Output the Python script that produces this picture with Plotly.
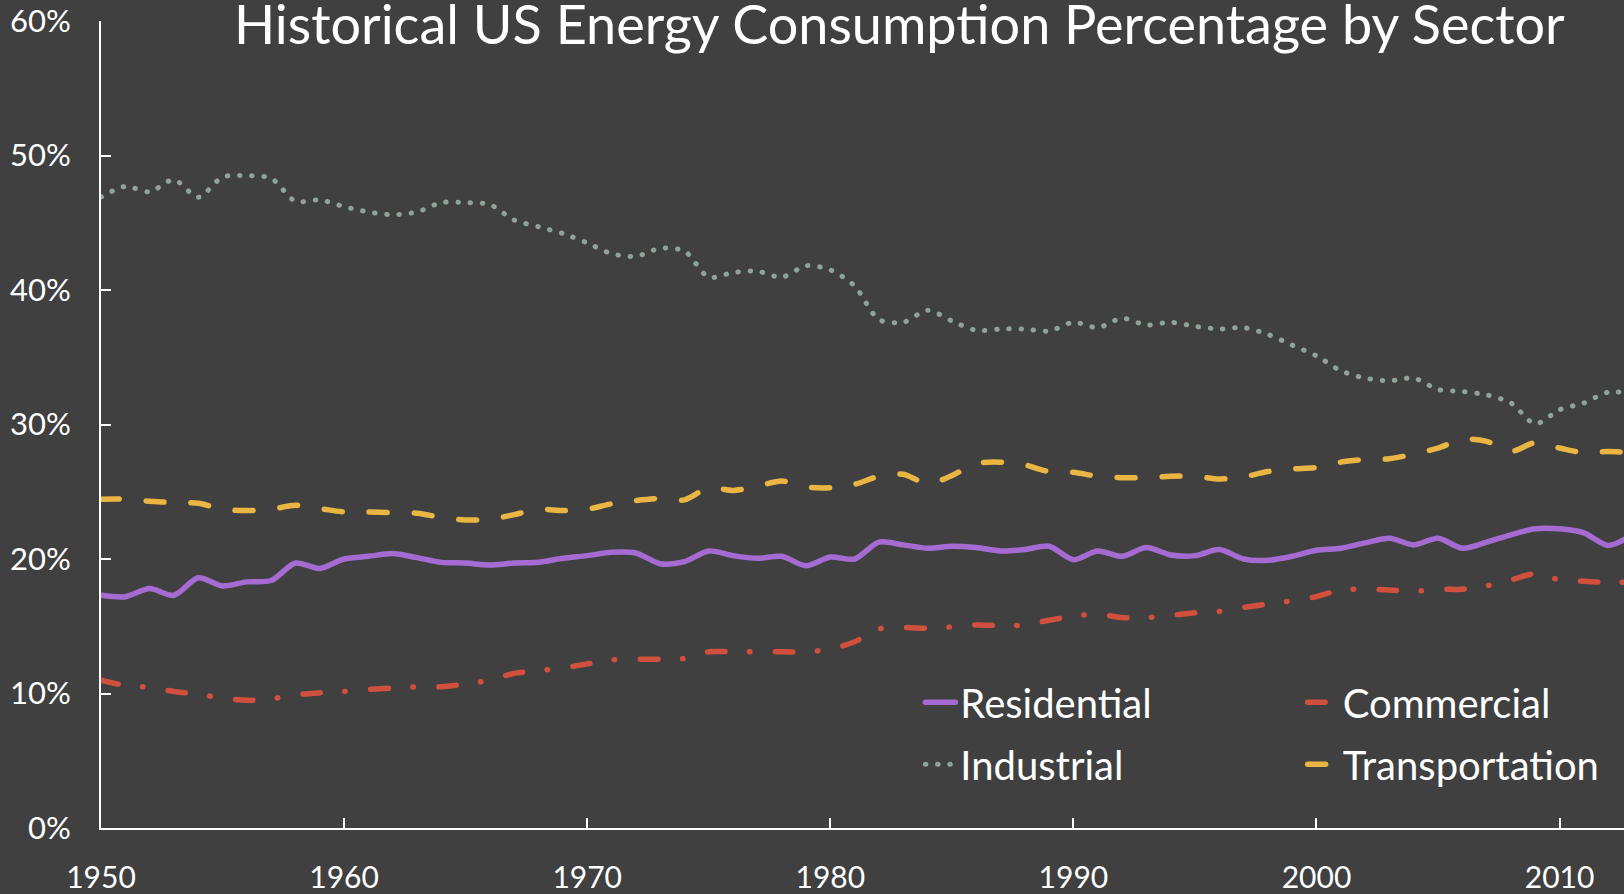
import plotly.graph_objects as go

years = list(range(1950, 2014))

residential = [17.3, 17.2, 17.8, 17.3, 18.6, 18.0, 18.3, 18.4, 19.7, 19.3,
               20.0, 20.2, 20.4, 20.1, 19.75, 19.7, 19.55, 19.7, 19.75, 20.05,
               20.25, 20.5, 20.45, 19.65, 19.8, 20.6, 20.25, 20.05, 20.2, 19.5,
               20.15, 20.0, 21.25, 21.05, 20.8, 20.95, 20.85, 20.6, 20.7, 20.95,
               19.95, 20.6, 20.2, 20.85, 20.3, 20.25, 20.7, 20.0, 19.9, 20.2,
               20.65, 20.8, 21.2, 21.55, 21.05, 21.55, 20.8, 21.25, 21.8, 22.25,
               22.25, 21.95, 21.0, 21.8]

commercial = [11.0, 10.6, 10.45, 10.15, 9.95, 9.65, 9.5, 9.6, 9.9, 10.05,
              10.15, 10.3, 10.4, 10.5, 10.5, 10.7, 11.0, 11.5, 11.7, 11.9,
              12.2, 12.5, 12.55, 12.55, 12.6, 13.1, 13.1, 13.1, 13.1, 13.1,
              13.3, 13.85, 14.8, 14.9, 14.85, 14.95, 15.1, 15.05, 15.1, 15.45,
              15.75, 15.9, 15.65, 15.65, 15.8, 16.0, 16.1, 16.4, 16.65, 16.9,
              17.2, 17.7, 17.75, 17.7, 17.6, 17.75, 17.75, 18.0, 18.45, 18.9,
              18.45, 18.35, 18.25, 18.3]

industrial = [46.9, 47.7, 47.3, 48.2, 46.9, 48.4, 48.5, 48.3, 46.6, 46.7,
              46.2, 45.8, 45.6, 45.8, 46.5, 46.5, 46.35, 45.2, 44.7, 44.2,
              43.5, 42.7, 42.5, 43.1, 42.9, 40.95, 41.3, 41.4, 40.95, 41.8,
              41.5, 40.3, 37.8, 37.6, 38.5, 37.7, 37.0, 37.1, 37.1, 36.95,
              37.6, 37.2, 37.9, 37.4, 37.6, 37.3, 37.1, 37.2, 36.7, 35.9,
              35.1, 34.0, 33.45, 33.25, 33.45, 32.6, 32.45, 32.2, 31.6, 30.05,
              31.1, 31.6, 32.4, 32.3]

transportation = [24.45, 24.45, 24.3, 24.2, 24.15, 23.7, 23.6, 23.7, 24.0, 23.75,
                  23.5, 23.5, 23.45, 23.4, 23.1, 22.9, 22.95, 23.3, 23.7, 23.6,
                  23.7, 24.1, 24.35, 24.5, 24.4, 25.3, 25.1, 25.4, 25.8, 25.35,
                  25.3, 25.55, 26.15, 26.3, 25.6, 26.2, 27.1, 27.2, 27.0, 26.5,
                  26.45, 26.15, 26.05, 26.05, 26.15, 26.15, 25.95, 26.1, 26.5, 26.7,
                  26.8, 27.2, 27.4, 27.45, 27.8, 28.25, 28.9, 28.75, 28.0, 28.65,
                  28.25, 27.9, 28.0, 27.9]

y_ticks = [0, 10, 20, 30, 40, 50, 60]
x_ticks = [1950, 1960, 1970, 1980, 1990, 2000, 2010]

FONT = "Lato"
WHITE = "#FFFFFF"
BG = "#404040"

fig = go.Figure()

series = [
    ("Residential", residential, "#A66BD3", 5.5, "solid", "legend", "g1"),
    ("Commercial", commercial, "#D0503D", 5.5, "17.5px,24.5px,0.5px,25.5px", "legend2", "g2"),
    ("Industrial", industrial, "#8FA398", 5, "0.5px,11.7px", "legend", "g3"),
    ("Transportation", transportation, "#EAB543", 5.5, "18px,27px", "legend2", "g4"),
]

for name, vals, color, width, dash, leg, grp in series:
    fig.add_trace(go.Scatter(
        x=years, y=vals, name=name, mode="lines",
        line=dict(color=color, width=width, dash=dash, shape="spline", smoothing=0.8),
        legend=leg, legendgroup=grp,
    ))

legend_common = dict(
    font=dict(family=FONT, size=40, color=WHITE),
    bgcolor="rgba(0,0,0,0)",
    orientation="v",
    traceorder="grouped",
    tracegroupgap=7,
    xanchor="left", yanchor="top",
    itemwidth=30,
)

fig.update_layout(
    width=1624, height=894,
    paper_bgcolor=BG, plot_bgcolor=BG,
    margin=dict(l=101, r=0, t=21, b=60),
    font=dict(family=FONT, color=WHITE),
    title=dict(
        text="Historical US Energy Consumption Percentage by Sector",
        font=dict(family=FONT, size=54, color=WHITE),
        x=234 / 1624, xanchor="left", xref="container",
        y=1 - 25 / 894, yanchor="middle", yref="container",
    ),
    showlegend=True,
    legend=dict(x=0.538, y=0.196, **legend_common),
    legend2=dict(x=0.789, y=0.196, **legend_common),
    xaxis=dict(
        range=[1950, 2012.65],
        tickvals=x_ticks,
        ticktext=[str(v) for v in x_ticks],
        ticks="inside", ticklen=10, tickwidth=2, tickcolor=WHITE,
        showline=True, linecolor=WHITE, linewidth=2,
        showgrid=False, zeroline=False,
        tickfont=dict(family=FONT, size=30, color=WHITE),
        ticklabelstandoff=22,
    ),
    yaxis=dict(
        range=[0, 60],
        tickvals=y_ticks,
        ticktext=[f"{v}%" for v in y_ticks],
        ticks="inside", ticklen=10, tickwidth=2, tickcolor=WHITE,
        showline=True, linecolor=WHITE, linewidth=2,
        showgrid=False, zeroline=False,
        tickfont=dict(family=FONT, size=31, color=WHITE),
        ticklabelstandoff=22,
    ),
)

post = (
    "var s=document.createElement('style');"
    "s.textContent='html,body{margin:0;padding:0;overflow:hidden;}"
    "path.js-line{stroke-linecap:round;stroke-linejoin:round;}';"
    "document.head.appendChild(s);"
)

fig.write_html("out.html", post_script=post, config={"displayModeBar": False})
